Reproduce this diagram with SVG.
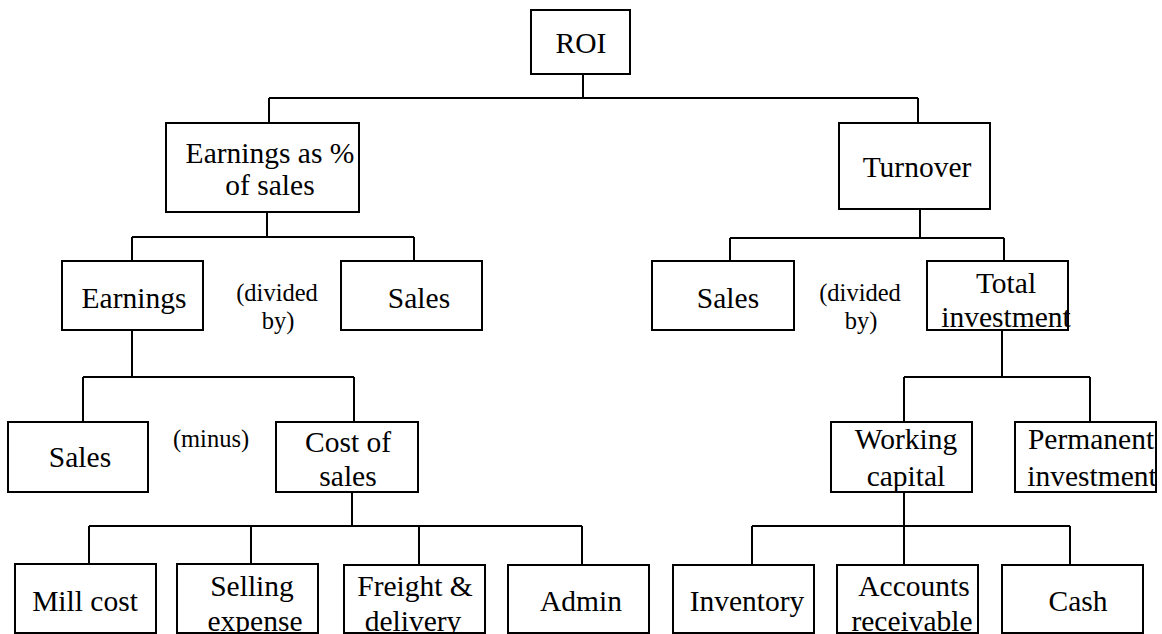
<svg xmlns="http://www.w3.org/2000/svg" width="1162" height="634" viewBox="0 0 1162 634">
<style>
.box{fill:#fff;stroke:#000;stroke-width:2}
.t{font-family:"Liberation Serif","Times New Roman",serif;font-size:29.5px;fill:#000;text-anchor:middle}
.s{font-family:"Liberation Serif","Times New Roman",serif;font-size:24.5px;fill:#000;text-anchor:middle}
.c{fill:none;stroke:#000;stroke-width:2}
</style>
<rect width="1162" height="634" fill="#fff"/>
<g id="connectors" class="c">
<path d="M583,74V98M269,98H918M269,98V123M918,98V123"/>
<path d="M267,212V237M132,237H414M132,237V261M414,237V261"/>
<path d="M920,209V238M730,238H1004M730,238V261M1004,238V261"/>
<path d="M132,330V377M83,377H354M83,377V422M354,377V422"/>
<path d="M1002,330V377M904,377H1090M904,377V422M1090,377V422"/>
<path d="M352,492V526M89,526H582M89,526V564M251,526V564M419,526V565M582,526V565"/>
<path d="M904,492V526M752,526H1070M752,526V565M904,526V565M1070,526V565"/>
</g>
<g id="roi"><rect class="box" x="531" y="10" width="99" height="64"/><text class="t" x="581" y="53">ROI</text></g>
<g id="earnpct"><rect class="box" x="166" y="123" width="193" height="89"/><text class="t" x="270" y="163">Earnings as %</text><text class="t" x="270" y="195">of sales</text></g>
<g id="turnover"><rect class="box" x="839" y="123" width="151" height="86"/><text class="t" x="917" y="177">Turnover</text></g>
<g id="earnings"><rect class="box" x="62" y="261" width="141" height="69"/><text class="t" x="134" y="308">Earnings</text></g>
<g id="div1"><text class="s" x="277" y="301">(divided</text><text class="s" x="278" y="329">by)</text></g>
<g id="sales1"><rect class="box" x="341" y="261" width="141" height="69"/><text class="t" x="419" y="308">Sales</text></g>
<g id="sales2"><rect class="box" x="652" y="261" width="142" height="69"/><text class="t" x="728" y="308">Sales</text></g>
<g id="div2"><text class="s" x="860" y="301">(divided</text><text class="s" x="861" y="329">by)</text></g>
<g id="totalinv"><rect class="box" x="927" y="261" width="141" height="69"/><text class="t" x="1006" y="293">Total</text><text class="t" x="1006" y="327">investment</text></g>
<g id="sales3"><rect class="box" x="8" y="422" width="140" height="70"/><text class="t" x="80" y="467">Sales</text></g>
<g id="minus"><text class="s" x="211" y="447">(minus)</text></g>
<g id="costsales"><rect class="box" x="276" y="422" width="142" height="70"/><text class="t" x="348" y="452">Cost of</text><text class="t" x="348" y="486">sales</text></g>
<g id="working"><rect class="box" x="831" y="422" width="141" height="70"/><text class="t" x="906" y="449">Working</text><text class="t" x="906" y="486">capital</text></g>
<g id="permanent"><rect class="box" x="1015" y="422" width="141" height="70"/><text class="t" x="1091" y="449">Permanent</text><text class="t" x="1092" y="486">investment</text></g>
<g id="mill"><rect class="box" x="15" y="564" width="141" height="69"/><text class="t" x="85" y="611">Mill cost</text></g>
<g id="selling"><rect class="box" x="177" y="564" width="141" height="69"/><text class="t" x="252" y="596">Selling</text><text class="t" x="255" y="631">expense</text></g>
<g id="freight"><rect class="box" x="344" y="565" width="141" height="68"/><text class="t" x="415" y="596">Freight &amp;</text><text class="t" x="413" y="631">delivery</text></g>
<g id="admin"><rect class="box" x="508" y="565" width="141" height="68"/><text class="t" x="581" y="611">Admin</text></g>
<g id="inventory"><rect class="box" x="673" y="565" width="141" height="68"/><text class="t" x="747" y="611">Inventory</text></g>
<g id="accounts"><rect class="box" x="837" y="565" width="141" height="68"/><text class="t" x="914" y="596">Accounts</text><text class="t" x="912" y="631">receivable</text></g>
<g id="cash"><rect class="box" x="1002" y="565" width="141" height="68"/><text class="t" x="1078" y="611">Cash</text></g>
</svg>
